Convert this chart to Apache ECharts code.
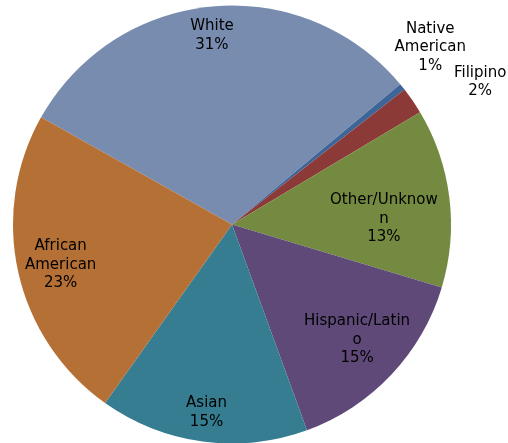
<!DOCTYPE html>
<html>
<head>
<meta charset="utf-8">
<script src="https://cdn.jsdelivr.net/npm/echarts@6/dist/echarts.min.js"></script>
<style>
    html, body { margin: 0; padding: 0; background: #fff; }
    #chart_View_Pie_Main { width: 508px; height: 443px; }
</style>
</head>
<body>
<div id="chart_View_Pie_Main"></div>
<script>
// slices, clockwise from the left edge of White
var categories = ['White', 'Native American', 'Filipino', 'Other/Unknown', 'Hispanic/Latino', 'Asian', 'African American'];
var values = [30.8, 0.5, 2.0, 13.2, 14.8, 15.4, 23.3];
// names as they were wrapped in the original labels
var labelNames = ['White', 'Native\nAmerican', 'Filipino', 'Other/Unknow\nn', 'Hispanic/Latin\no', 'Asian', 'African\nAmerican'];

var INIT_PIE_CHARTVIEW = function () {
    var colors = ['#788caf', '#3d6597', '#8c3a37', '#738a40', '#5e4978', '#367d91', '#b57035'];
    var cx = 232, cy = 224.5, R = 219;
    var startAngle = 150.7;

    // label distance from center and angle tweak (Excel best fit)
    var labelRadius = [190, 266, 286, 152, 170, 190, 176];
    var labelShift = [0.8, 2.9, -4.6, -4.9, 0.7, 0, 0.6];

    var total = 0;
    for (var i = 0; i < values.length; i++) total += values[i];
    var midAngles = [];
    var a = startAngle;
    for (var j = 0; j < values.length; j++) {
        var span = values[j] / total * 360;
        midAngles.push(a - span / 2);
        a -= span;
    }

    var data = [];
    for (var k = 0; k < categories.length; k++) {
        data.push({ value: values[k], name: categories[k], itemStyle: { color: colors[k] } });
    }

    var chart = echarts.init(document.getElementById('chart_View_Pie_Main'));
    var option = {
        animation: false,
        series: [{
            type: 'pie',
            center: [cx, cy],
            radius: R,
            startAngle: startAngle,
            clockwise: true,
            percentPrecision: 0,
            avoidLabelOverlap: false,
            itemStyle: { borderWidth: 0 },
            label: {
                show: true,
                position: 'inside',
                fontFamily: 'DejaVu Sans',
                fontSize: 15,
                lineHeight: 18.5,
                color: '#000',
                align: 'center',
                formatter: function (p) {
                    return labelNames[p.dataIndex] + '\n' + p.percent + '%';
                }
            },
            labelLine: { show: false },
            labelLayout: function (p) {
                var ang = (midAngles[p.dataIndex] + labelShift[p.dataIndex]) * Math.PI / 180;
                var r = labelRadius[p.dataIndex];
                return {
                    x: cx + r * Math.cos(ang),
                    y: cy - r * Math.sin(ang),
                    align: 'center',
                    verticalAlign: 'middle'
                };
            },
            emphasis: { disabled: true },
            data: data
        }]
    };
    chart.setOption(option);
};

INIT_PIE_CHARTVIEW();
</script>
</body>
</html>
